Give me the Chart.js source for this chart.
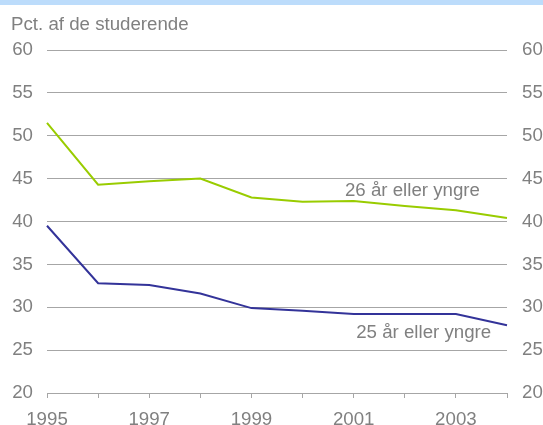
<!DOCTYPE html>
<html>
<head>
<meta charset="utf-8">
<script src="https://cdn.jsdelivr.net/npm/chart.js@4"></script>
<style>
  html, body { margin: 0; padding: 0; background: #fff; }
  #wrap { position: relative; width: 543px; height: 425px; }
</style>
</head>
<body>
<div id="wrap"><canvas id="c" width="543" height="425"></canvas></div>
<script>
// ===== data =====
const YEARS = ['1995', '1996', '1997', '1998', '1999', '2000', '2001', '2002', '2003', '2004'];
const UPTO26 = [51.5, 44.3, 44.7, 45.0, 42.8, 42.3, 42.4, 41.8, 41.3, 40.4];
const UPTO25 = [39.5, 32.8, 32.6, 31.6, 29.9, 29.6, 29.2, 29.2, 29.2, 27.9];
const NAMES = ['26 år eller yngre', '25 år eller yngre'];
// label anchors (category index, value)
const LABEL_POS = [[7.15, 43.6], [7.37, 27.0]];

const GREEN = '#99cc00';
const NAVY = '#333399';
const GREY_TXT = '#808080';
const GRID = '#a6a6a6';
const FONT = "'Liberation Sans', Arial, sans-serif";
const FSIZE = 18.7;

const extras = {
  id: 'extras',
  beforeDraw(chart) {
    const ctx = chart.ctx;
    ctx.save();
    ctx.fillStyle = '#bcdcfb';
    ctx.fillRect(0, 0, chart.width, 5);
    ctx.fillStyle = GREY_TXT;
    ctx.font = FSIZE + 'px ' + FONT;
    ctx.textBaseline = 'alphabetic';
    ctx.textAlign = 'left';
    ctx.fillText('Pct. af de studerende', 11, 30);
    ctx.restore();
  },
  afterDatasetsDraw(chart) {
    const ctx = chart.ctx, xs = chart.scales.x, ys = chart.scales.y;
    ctx.save();
    ctx.fillStyle = GREY_TXT;
    ctx.font = FSIZE + 'px ' + FONT;
    ctx.textAlign = 'center';
    ctx.textBaseline = 'middle';
    NAMES.forEach((n, i) => {
      ctx.fillText(n, xs.getPixelForValue(LABEL_POS[i][0]), ys.getPixelForValue(LABEL_POS[i][1]));
    });
    ctx.restore();
  }
};

function mkLine(name, data, color) {
  return { label: name, data, borderColor: color, backgroundColor: color,
    borderWidth: 2, pointRadius: 0, tension: 0, fill: false };
}

const yTicks = { color: GREY_TXT, font: { family: FONT, size: FSIZE }, stepSize: 5 };

new Chart(document.getElementById('c'), {
  type: 'line',
  data: { labels: YEARS, datasets: [mkLine(NAMES[0], UPTO26, GREEN), mkLine(NAMES[1], UPTO25, NAVY)] },
  options: {
    responsive: false, animation: false,
    layout: { padding: { top: 50, left: 0, right: 0, bottom: 0 } },
    plugins: { legend: { display: false }, tooltip: { enabled: false } },
    scales: {
      x: {
        offset: false,
        grid: { drawOnChartArea: false, drawTicks: true, tickLength: 5, color: GRID },
        border: { color: GRID },
        ticks: {
          color: GREY_TXT, font: { family: FONT, size: FSIZE }, autoSkip: false, maxRotation: 0, padding: 11,
          callback: (v, i) => (i % 2 === 0 ? YEARS[i] : '')
        },
        afterFit: s => { s.height = 32; }
      },
      y: {
        position: 'left', min: 20, max: 60,
        grid: { color: GRID, drawTicks: false },
        border: { display: false },
        ticks: { ...yTicks, padding: 14 },
        afterFit: s => { s.width = 47; }
      },
      y2: {
        position: 'right', min: 20, max: 60,
        grid: { drawOnChartArea: false, drawTicks: false },
        border: { display: false },
        ticks: { ...yTicks, padding: 15 },
        afterFit: s => { s.width = 36; }
      }
    }
  },
  plugins: [extras]
});
</script>
</body>
</html>
